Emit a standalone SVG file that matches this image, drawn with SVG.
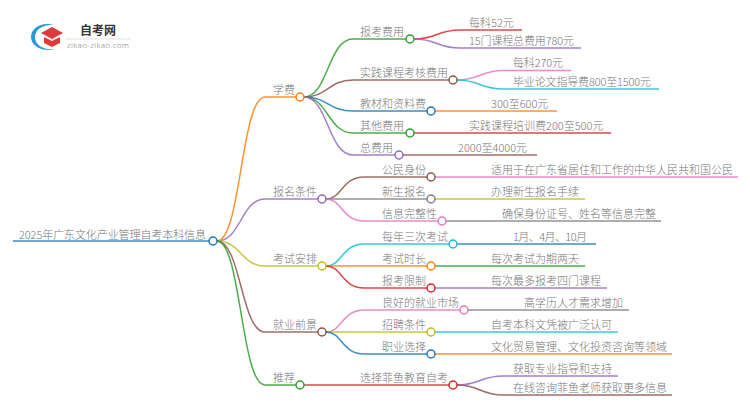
<svg xmlns="http://www.w3.org/2000/svg" width="750" height="410" viewBox="0 0 750 410">
<style>
text{font-family:"Noto Sans CJK SC","Noto Sans",sans-serif;font-size:11px;fill:#777;font-weight:300}
path{fill:none;stroke-width:1.5}
circle{fill:#fff;stroke-width:1.5}
.o{stroke:#ff7f0e}.g{stroke:#2ca02c}.b{stroke:#1f77b4}.r{stroke:#d62728}.p{stroke:#9467bd}.n{stroke:#8c564b}.k{stroke:#e377c2}.y{stroke:#7f7f7f}.l{stroke:#bcbd22}.c{stroke:#17becf}
path{stroke-opacity:.85}
</style>
<rect width="750" height="410" fill="#fff"/>
<g id="logo">
<path d="M53 24.500C38 22 31 30 31 37C31 45 40 52 55 49.500C43 50 35 45 35 37C35 30 42 25 53 24.500Z" style="fill:#2a9ad6;stroke:none"/>
<polygon points="41,33 52,27 63,33 52,39" fill="#e03a3a"/>
<path d="M44 37V43L52 47L60 43V37L52 41Z" style="fill:#e03a3a;stroke:none"/>
<text x="80" y="35" style="font-size:12px;font-weight:700;fill:#333">自考网</text>
<path d="M66 39H131" style="stroke:#ddd;stroke-width:1"/>
<text x="67" y="48" textLength="62" style="font-size:8px;fill:#888;font-family:'Noto Sans',sans-serif">zikao-zikao.com</text>
</g>
<g id="connectors">
<path class="b" d="M13 241H209"/>
<path class="o" d="M217 241C241 241 241 97 265 97H296"/>
<path class="p" d="M217 241C241 241 241 199 265 199H318"/>
<path class="l" d="M217 241C241 241 241 266 265 266H318"/>
<path class="n" d="M217 241C241 241 241 332 265 332H318"/>
<path class="g" d="M217 241C241 241 241 385 265 385H296"/>
<path class="g" d="M304 97C328 97 328 39 353 39H406"/>
<path class="n" d="M304 97C328 97 328 80 353 80H449"/>
<path class="b" d="M304 97C328 97 328 111 353 111H427"/>
<path class="g" d="M304 97C328 97 328 133 353 133H406"/>
<path class="p" d="M304 97C328 97 328 155 353 155H395"/>
<path class="n" d="M326 199C342 199 342 177 364 177H427"/>
<path class="y" d="M326 199H427"/>
<path class="k" d="M326 199C342 199 342 221 364 221H438"/>
<path class="c" d="M326 266C342 266 342 244 364 244H449"/>
<path class="o" d="M326 266H427"/>
<path class="r" d="M326 266C342 266 342 288 364 288H427"/>
<path class="k" d="M326 332C342 332 342 310 364 310H460"/>
<path class="l" d="M326 332H427"/>
<path class="b" d="M326 332C342 332 342 354 364 354H427"/>
<path class="r" d="M304 385H449"/>
<path class="r" d="M414 39C437 39 437 30 460 30H522"/>
<path class="p" d="M414 39C437 39 437 48 460 48H581"/>
<path class="k" d="M457 80C480 80 480 70.500 503 70.500H571"/>
<path class="c" d="M457 80C480 80 480 89 503 89H659"/>
<path class="o" d="M435 111H557"/>
<path class="r" d="M414 133H611"/>
<path class="n" d="M403 155H537"/>
<path class="k" d="M435 177H738"/>
<path class="l" d="M435 199H585"/>
<path class="y" d="M446 221H661"/>
<path class="b" d="M457 244H596"/>
<path class="g" d="M435 266H585"/>
<path class="p" d="M435 288H607"/>
<path class="y" d="M468 310H629"/>
<path class="c" d="M435 332H618"/>
<path class="o" d="M435 354H672"/>
<path class="p" d="M457 385C480 385 480 376 503 376H618"/>
<path class="n" d="M457 385C480 385 480 395 503 395H672"/>
</g>
<g id="root"><text x="19" y="238.500" textLength="187">2025年广东文化产业管理自考本科信息</text><circle class="b" cx="213" cy="241" r="4"/></g>
<g id="n1"><text x="273" y="94">学费</text><circle class="o" cx="300" cy="97" r="4"/></g>
<g id="n2"><text x="273" y="196">报名条件</text><circle class="p" cx="322" cy="199" r="4"/></g>
<g id="n3"><text x="273" y="263">考试安排</text><circle class="l" cx="322" cy="266" r="4"/></g>
<g id="n4"><text x="273" y="329">就业前景</text><circle class="n" cx="322" cy="332" r="4"/></g>
<g id="n5"><text x="273" y="382">推荐</text><circle class="g" cx="300" cy="385" r="4"/></g>
<g id="n11"><text x="360" y="36">报考费用</text><circle class="g" cx="410" cy="39" r="4"/></g>
<g id="n12"><text x="360" y="77">实践课程考核费用</text><circle class="n" cx="453" cy="80" r="4"/></g>
<g id="n13"><text x="360" y="108">教材和资料费</text><circle class="b" cx="431" cy="111" r="4"/></g>
<g id="n14"><text x="360" y="130">其他费用</text><circle class="g" cx="410" cy="133" r="4"/></g>
<g id="n15"><text x="360" y="152">总费用</text><circle class="p" cx="399" cy="155" r="4"/></g>
<g id="n21"><text x="382" y="174">公民身份</text><circle class="n" cx="431" cy="177" r="4"/></g>
<g id="n22"><text x="382" y="196">新生报名</text><circle class="y" cx="431" cy="199" r="4"/></g>
<g id="n23"><text x="382" y="218">信息完整性</text><circle class="k" cx="442" cy="221" r="4"/></g>
<g id="n31"><text x="382" y="241">每年三次考试</text><circle class="c" cx="453" cy="244" r="4"/></g>
<g id="n32"><text x="382" y="263">考试时长</text><circle class="o" cx="431" cy="266" r="4"/></g>
<g id="n33"><text x="382" y="285">报考限制</text><circle class="r" cx="431" cy="288" r="4"/></g>
<g id="n41"><text x="382" y="307">良好的就业市场</text><circle class="k" cx="464" cy="310" r="4"/></g>
<g id="n42"><text x="382" y="329">招聘条件</text><circle class="l" cx="431" cy="332" r="4"/></g>
<g id="n43"><text x="382" y="351">职业选择</text><circle class="b" cx="431" cy="354" r="4"/></g>
<g id="n51"><text x="360" y="382">选择菲鱼教育自考</text><circle class="r" cx="453" cy="385" r="4"/></g>
<g id="l1"><text x="469" y="27">每科52元</text></g>
<g id="l2"><text x="469" y="45" textLength="105">15门课程总费用780元</text></g>
<g id="l3"><text x="513" y="67" textLength="50">每科270元</text></g>
<g id="l4"><text x="513" y="86" textLength="138">毕业论文指导费800至1500元</text></g>
<g id="l5"><text x="491" y="108">300至600元</text></g>
<g id="l6"><text x="469" y="130">实践课程培训费200至500元</text></g>
<g id="l7"><text x="458" y="152">2000至4000元</text></g>
<g id="l8"><text x="491" y="174">适用于在广东省居住和工作的中华人民共和国公民</text></g>
<g id="l9"><text x="491" y="196">办理新生报名手续</text></g>
<g id="l10"><text x="502" y="218">确保身份证号、姓名等信息完整</text></g>
<g id="l11"><text x="513" y="241" textLength="74">1月、4月、10月</text></g>
<g id="l12"><text x="491" y="263">每次考试为期两天</text></g>
<g id="l13"><text x="491" y="285">每次最多报考四门课程</text></g>
<g id="l14"><text x="524" y="307">高学历人才需求增加</text></g>
<g id="l15"><text x="491" y="329">自考本科文凭被广泛认可</text></g>
<g id="l16"><text x="491" y="351">文化贸易管理、文化投资咨询等领域</text></g>
<g id="l17"><text x="513" y="373">获取专业指导和支持</text></g>
<g id="l18"><text x="513" y="392">在线咨询菲鱼老师获取更多信息</text></g>
</svg>
